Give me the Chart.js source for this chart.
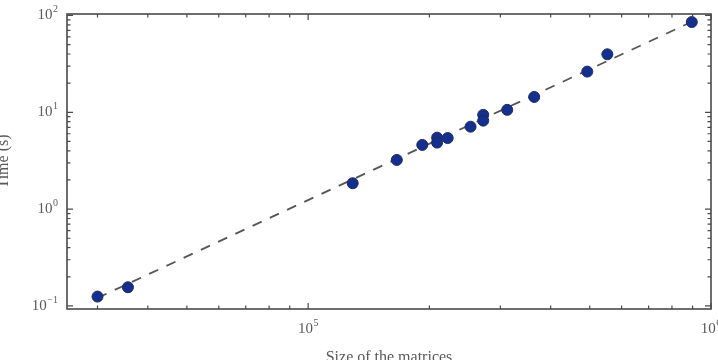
<!DOCTYPE html>
<html>
<head>
<meta charset="utf-8">
<script src="https://cdn.jsdelivr.net/npm/chart.js@4/dist/chart.umd.min.js"></script>
<style>
html,body{margin:0;padding:0;background:#fff;overflow:hidden;}
#wrap{width:718px;height:360px;position:relative;}
</style>
</head>
<body>
<div id="wrap"><canvas id="c" width="718" height="360"></canvas></div>
<script>
// ---- data ----
const matrixSizes = [3.0e4, 3.57e4, 1.29e5, 1.66e5, 1.92e5, 2.09e5, 2.09e5, 2.22e5, 2.53e5, 2.72e5, 2.72e5, 3.12e5, 3.64e5, 4.93e5, 5.53e5, 8.96e5];
const times       = [0.125, 0.156, 1.85, 3.22, 4.6, 5.47, 4.86, 5.42, 7.1, 9.4, 8.2, 10.6, 14.4, 26.3, 39.7, 85.5];
const fitSizes = [3.0e4, 8.96e5];
const fitTimes = [0.121, 86];
const xMajorTicks = [1e5, 1e6];
const xMajorExps  = ['5', '6'];
const yMajorTicks = [0.1, 1, 10, 100];
const yMajorExps  = ['\u22121', '0', '1', '2'];
const xRange = [2.52e4, 1e6];
const yRange = [0.093, 103.5];
const xTitle = 'Size of the matrices';
const yTitle = 'Time (s)';

const FONT = '"Liberation Serif", "DejaVu Serif", serif';
const LABEL_COLOR = '#5a5a5a';
const AXIS_COLOR = '#4a4a4a';

function minorTicks(min, max) {
  const out = [];
  for (let e = Math.floor(Math.log10(min)); e <= Math.ceil(Math.log10(max)); e++) {
    for (let m = 1; m <= 9; m++) {
      const v = m * Math.pow(10, e);
      if (v >= min && v <= max) out.push({ v, major: m === 1 });
    }
  }
  return out;
}

function drawPow(ctx, x, y, exp, align) {
  ctx.font = '15px ' + FONT;
  const baseW = ctx.measureText('10').width;
  ctx.font = '10px ' + FONT;
  const expW = ctx.measureText(exp).width;
  const total = baseW + expW + 0.5;
  let left = x;
  if (align === 'right') left = x - total;
  else if (align === 'center') left = x - total / 2;
  ctx.textAlign = 'left';
  ctx.textBaseline = 'middle';
  ctx.font = '15px ' + FONT;
  ctx.fillText('10', left, y);
  ctx.font = '10px ' + FONT;
  ctx.fillText(exp, left + baseW + 0.5, y - 6);
}

const framePlugin = {
  id: 'frame',
  afterDatasetsDraw(chart) {
    const ctx = chart.ctx;
    const a = chart.chartArea;
    const xs = chart.scales.x, ys = chart.scales.y;
    ctx.save();
    ctx.strokeStyle = AXIS_COLOR;
    ctx.lineWidth = 1.6;
    ctx.strokeRect(a.left, a.top, a.right - a.left, a.bottom - a.top);
    ctx.lineWidth = 1.2;
    for (const t of minorTicks(xRange[0], xRange[1])) {
      const px = xs.getPixelForValue(t.v);
      const len = t.major ? 6 : 3.5;
      ctx.beginPath();
      ctx.moveTo(px, a.bottom); ctx.lineTo(px, a.bottom - len);
      ctx.moveTo(px, a.top); ctx.lineTo(px, a.top + len);
      ctx.stroke();
    }
    for (const t of minorTicks(yRange[0], yRange[1])) {
      const py = ys.getPixelForValue(t.v);
      const len = t.major ? 6 : 3.5;
      ctx.beginPath();
      ctx.moveTo(a.left, py); ctx.lineTo(a.left + len, py);
      ctx.moveTo(a.right, py); ctx.lineTo(a.right - len, py);
      ctx.stroke();
    }
    ctx.fillStyle = LABEL_COLOR;
    xMajorTicks.forEach((v, i) => {
      drawPow(ctx, xs.getPixelForValue(v), a.bottom + 20, xMajorExps[i], 'center');
    });
    yMajorTicks.forEach((v, i) => {
      drawPow(ctx, a.left - 9, ys.getPixelForValue(v), yMajorExps[i], 'right');
    });
    ctx.font = '16px ' + FONT;
    ctx.textAlign = 'center';
    ctx.textBaseline = 'top';
    ctx.fillText(xTitle, (a.left + a.right) / 2, 350);
    ctx.save();
    ctx.translate(8, (a.top + a.bottom) / 2);
    ctx.rotate(-Math.PI / 2);
    ctx.textBaseline = 'alphabetic';
    ctx.fillText(yTitle, 0, 0);
    ctx.restore();
    ctx.restore();
  }
};

new Chart(document.getElementById('c'), {
  type: 'scatter',
  data: {
    datasets: [
      {
        label: 'measured',
        data: matrixSizes.map((x, i) => ({ x, y: times[i] })),
        backgroundColor: '#13308e',
        borderColor: '#23295a',
        borderWidth: 1,
        pointRadius: 5.5,
        order: 0
      },
      {
        label: 'fit',
        data: fitSizes.map((x, i) => ({ x, y: fitTimes[i] })),
        showLine: true,
        borderColor: '#555555',
        borderWidth: 1.8,
        borderDash: [10, 9],
        pointRadius: 0,
        fill: false,
        order: 1
      }
    ]
  },
  options: {
    responsive: false,
    animation: false,
    devicePixelRatio: 1,
    layout: { padding: { left: 67, top: 14, right: 7, bottom: 51 } },
    plugins: { legend: { display: false }, tooltip: { enabled: false } },
    scales: {
      x: { type: 'logarithmic', min: xRange[0], max: xRange[1], display: false },
      y: { type: 'logarithmic', min: yRange[0], max: yRange[1], display: false }
    }
  },
  plugins: [framePlugin]
});
</script>
</body>
</html>
